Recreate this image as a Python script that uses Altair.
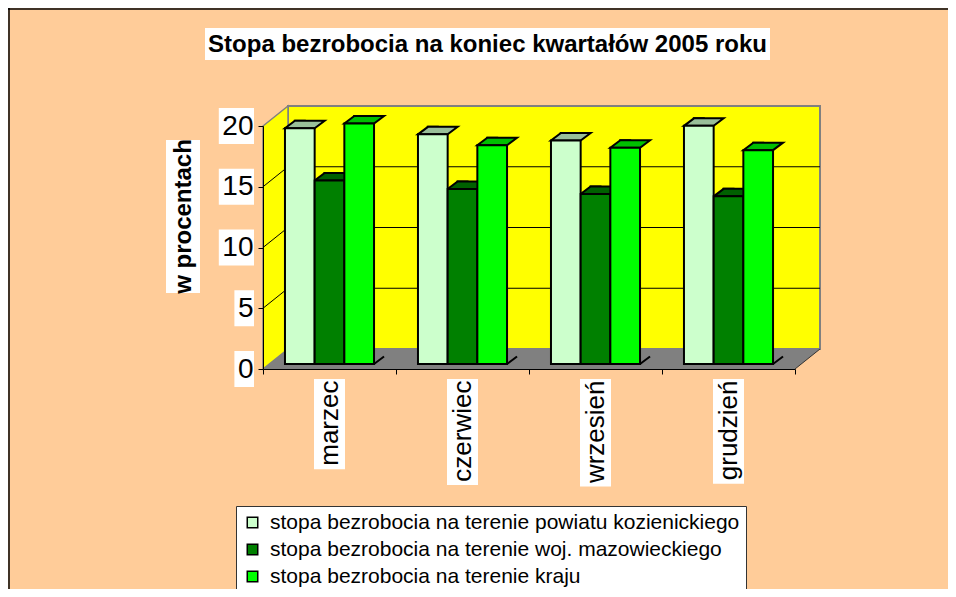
import altair as alt
import pandas as pd

# ---------------- data ----------------
TITLE = "Stopa bezrobocia na koniec kwartałów 2005 roku"
Y_TITLE = "w procentach"
categories = ["marzec", "czerwiec", "wrzesień", "grudzień"]
series = [
    "stopa bezrobocia na terenie powiatu kozienickiego",
    "stopa bezrobocia na terenie woj. mazowieckiego",
    "stopa bezrobocia na terenie kraju",
]
powiat = [19.4, 18.9, 18.4, 19.6]
wojewodztwo = [15.1, 14.4, 14.0, 13.8]
kraj = [19.8, 18.0, 17.8, 17.6]
y_ticks = [0, 5, 10, 15, 20]

# ---------------- style ----------------
FRONT = ["#CCFFCC", "#008000", "#00FF00"]
TOP = ["#99BF99", "#006000", "#00BF00"]
SIDE = ["#668066", "#004000", "#008000"]
PEACH = "#FFCC99"
WALL = "#FFFF00"
FLOOR = "#808080"
EDGE = "#808080"
FONT = "Liberation Sans, Arial, Helvetica, sans-serif"

W, H = 532, 243          # plot (front axis box)
DX, DY = 25, 20          # wall depth
BX, BY = 10, 7.5         # bar depth
SX, SY = 7.5, 5          # bars pushed into depth
PAD_OUTER = 0.74
step = W / len(categories)
hw = step / (len(series) + 2 * PAD_OUTER) / 2   # half bar width

rows = []
for i, c in enumerate(categories):
    for s, vals in zip(series, [powiat, wojewodztwo, kraj]):
        rows.append({"cat": c, "series": s, "value": vals[i]})
df = pd.DataFrame(rows)

yscale = alt.Scale(domain=[0, max(y_ticks)], nice=False, zero=True)
xscale = alt.Scale(domain=categories, paddingInner=0, paddingOuter=0)

x_axis = alt.Axis(title=None, labelAngle=270, labelAlign="right", labelBaseline="middle",
                  labelFontSize=26, labelFont=FONT, labelColor="black", labelPadding=6,
                  tickSize=5, tickColor="black", tickBand="extent", domainColor="black",
                  domainWidth=1, grid=False, zindex=1, labelLimit=0)
y_axis = alt.Axis(title=None, values=y_ticks, labelFontSize=28, labelFont=FONT, labelColor="black",
                  labelPadding=5, tickSize=5, tickColor="black", domainColor="black",
                  domainWidth=1, grid=False, zindex=1)

x_enc = alt.X("cat:N", scale=xscale, sort=categories, axis=x_axis)
xo_enc = alt.XOffset("series:N", scale=alt.Scale(domain=series, paddingInner=0, paddingOuter=PAD_OUTER))
y_enc = alt.Y("value:Q", scale=yscale, axis=y_axis)


def ydatum(v):
    return alt.YDatum(v, scale=yscale, axis=y_axis)


def yfield(f):
    return alt.Y(f, scale=yscale, axis=y_axis)


one = alt.Data(values=[{"a": 1}])

# ---------------- walls & floor ----------------
back_wall = alt.Chart(one).mark_rect(fill=WALL, stroke=EDGE, strokeWidth=2,
                                     yOffset=-DY, y2Offset=-DY).encode(
    x=alt.value(DX), x2=alt.value(W + DX),
    y=ydatum(max(y_ticks)), y2=alt.Y2Datum(0))

left_wall = alt.Chart(one).mark_point(
    shape=f"M0,0 L0,{-H} L{DX},{-H - DY} L{DX},{-DY} Z", size=4, filled=True,
    fill=WALL, stroke=EDGE, strokeWidth=1.5, opacity=1).encode(
    x=alt.value(0), y=ydatum(0))

floor = alt.Chart(one).mark_point(
    shape=f"M0,0 L{W},0 L{W + DX},{-DY} L{DX},{-DY} Z", size=4, filled=True,
    fill=FLOOR, strokeWidth=0, opacity=1).encode(
    x=alt.value(0), y=ydatum(0))

floor_edge = alt.Chart(one).mark_point(
    shape=f"M{W},0 L{W + DX},{-DY}", size=4, filled=False, color="#333333",
    strokeWidth=1, opacity=1).encode(
    x=alt.value(0), y=ydatum(0))

inner = pd.DataFrame({"t": [t for t in y_ticks if 0 < t < max(y_ticks)]})
back_grid = alt.Chart(inner).mark_rule(color="black", strokeWidth=1, yOffset=-DY).encode(
    x=alt.value(DX), x2=alt.value(W + DX), y=yfield("t:Q"))
side_grid = alt.Chart(inner).mark_point(
    shape=f"M0,0 L{DX},{-DY}", size=4, filled=False, color="black", strokeWidth=1,
    opacity=1).encode(x=alt.value(0), y=yfield("t:Q"))

# ---------------- 3D bars ----------------
base = alt.Chart(df)
sides = base.mark_bar(width=BX, xOffset=SX + hw + BX / 2, yOffset=-SY - BY, y2Offset=-SY,
                      stroke="black", strokeWidth=2).encode(
    x=x_enc, xOffset=xo_enc, y=y_enc, y2=alt.Y2Datum(0),
    fill=alt.Fill("series:N", scale=alt.Scale(domain=series, range=SIDE), legend=None))

masks = base.mark_point(
    shape=f"M{hw:.2f},0 L{hw + BX:.2f},{-BY} L{hw + BX + 1.3:.2f},{-BY} L{hw + BX + 1.3:.2f},1.3 L{hw:.2f},1.3 Z",
    size=4, filled=True, fill=FLOOR, strokeWidth=0, opacity=1, xOffset=SX, yOffset=-SY).encode(
    x=x_enc, xOffset=xo_enc, y=ydatum(0))

bottom_diag = base.mark_point(
    shape=f"M{hw:.2f},0 L{hw + BX:.2f},{-BY}", size=4, filled=False, color="black",
    strokeWidth=2, opacity=1, xOffset=SX, yOffset=-SY).encode(
    x=x_enc, xOffset=xo_enc, y=ydatum(0))

tops = base.mark_point(
    shape=f"M{-hw:.2f},0 L{hw:.2f},0 L{hw + BX:.2f},{-BY} L{-hw + BX:.2f},{-BY} Z",
    size=4, filled=True, stroke="black", strokeWidth=2, opacity=1, xOffset=SX, yOffset=-SY).encode(
    x=x_enc, xOffset=xo_enc, y=y_enc,
    fill=alt.Fill("series:N", scale=alt.Scale(domain=series, range=TOP), legend=None))

fronts = base.mark_bar(stroke="black", strokeWidth=2, xOffset=SX, yOffset=-SY, y2Offset=-SY).encode(
    x=x_enc, xOffset=xo_enc, y=y_enc, y2=alt.Y2Datum(0),
    color=alt.Color("series:N", scale=alt.Scale(domain=series, range=FRONT),
                    legend=alt.Legend(title=None, orient="none", legendX=-27, legendY=380,
                                      fillColor="white", strokeColor="#333333",
                                      padding=6, symbolType="square", symbolSize=110,
                                      symbolStrokeColor="black", symbolStrokeWidth=1.5,
                                      labelFontSize=21, labelFont=FONT, labelColor="black",
                                      labelLimit=0, rowPadding=5, labelOffset=7)))

# ---------------- white label boxes ----------------
ylab = pd.DataFrame({"t": y_ticks, "n": [len(str(t)) for t in y_ticks]})
ybox_layers = []
for n in sorted(set(ylab["n"])):
    ybox_layers.append(
        alt.Chart(ylab).transform_filter(alt.datum.n == int(n)).mark_rect(
            fill="white", yOffset=-18, y2Offset=18).encode(
            x=alt.value(-9 - (int(n) * 15.6 + 4)), x2=alt.value(-9),
            y=yfield("t:Q"), y2=alt.Y2("t:Q")))

ARIAL = {"m": .833, "a": .556, "r": .333, "z": .5, "e": .556, "c": .5, "w": .722,
         "i": .222, "s": .5, "ń": .556, "g": .556, "u": .556, "d": .556}
LAB_TOP = 10
xb_rows = []
for c in categories:
    length = sum(ARIAL.get(ch, .556) for ch in c) * 26 + 5
    xb_rows.append({"cat": c,
                    "y0": (H - (H + LAB_TOP)) / H * max(y_ticks),
                    "y1": (H - (H + LAB_TOP + length)) / H * max(y_ticks)})
xboxes = alt.Chart(pd.DataFrame(xb_rows)).mark_bar(width=31, fill="white").encode(
    x=x_enc, y=yfield("y0:Q"), y2=alt.Y2("y1:Q"))

# ---------------- titles ----------------
title_box = alt.Chart(one).mark_rect(fill="white").encode(
    x=alt.value(-58), x2=alt.value(507), y=alt.value(-98), y2=alt.value(-66))
title_txt = alt.Chart(one).mark_text(text=TITLE, fontSize=24, fontWeight="bold", font=FONT,
                                     color="black", align="center", baseline="middle").encode(
    x=alt.value(224.5), y=alt.value(-81))
ytitle_box = alt.Chart(one).mark_rect(fill="white").encode(
    x=alt.value(-97), x2=alt.value(-63), y=alt.value(14), y2=alt.value(167))
ytitle_txt = alt.Chart(one).mark_text(text=Y_TITLE, fontSize=24, fontWeight="bold", font=FONT,
                                      color="black", align="center", baseline="middle",
                                      angle=270).encode(
    x=alt.value(-79), y=alt.value(90.5))

border_top = alt.Chart(one).mark_rule(color="black", strokeWidth=1.5).encode(
    x=alt.value(-256), x2=alt.value(700), y=alt.value(-117))
border_left = alt.Chart(one).mark_rule(color="black", strokeWidth=1.5).encode(
    x=alt.value(-254), y=alt.value(-118), y2=alt.value(480))

chart = alt.layer(
    back_wall, left_wall, floor, floor_edge, back_grid, side_grid,
    sides, masks, bottom_diag, tops, fronts,
    *ybox_layers, xboxes,
    title_box, title_txt, ytitle_box, ytitle_txt, border_top, border_left,
).resolve_scale(fill="independent").properties(
    width=W, height=H,
    autosize=alt.AutoSizeParams(type="none"),
    padding={"left": 255, "top": 118, "right": 153, "bottom": 220},
    background=PEACH,
).configure_view(stroke=None)

chart.save("out.html", embed_options={"renderer": "svg", "actions": False})
